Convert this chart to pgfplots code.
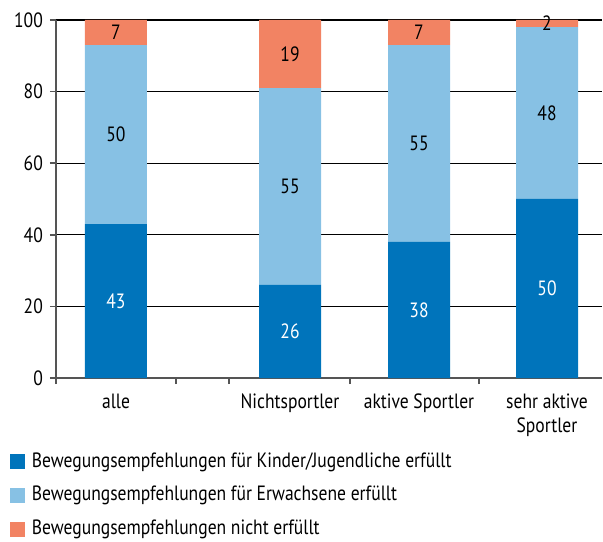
\documentclass[border=0pt]{standalone}
\usepackage{pgfplots}
\usepackage{pgfplotstable}
\pgfplotsset{compat=1.18}
\usepackage{fontspec}
\setmainfont{PT Sans}[FakeStretch=0.85]
\definecolor{dblue}{RGB}{0,116,187}
\definecolor{lblue}{RGB}{135,193,228}
\definecolor{orng}{RGB}{242,131,99}
\definecolor{axgray}{RGB}{85,85,85}
% x positions of the bars (category slots, uneven as in the original)
\pgfplotstableread{
x y
116 43
290 26
419 38
547 50
}\tKinder
\pgfplotstableread{
x y
116 50
290 55
419 55
547 48
}\tErw
\pgfplotstableread{
x y
116 7
290 19
419 7
547 2
}\tNicht
\begin{document}
\fontsize{15.5pt}{18pt}\selectfont
\begin{tikzpicture}
\useasboundingbox (-42pt,-123pt) rectangle (410.25pt,283.5pt);
\begin{axis}[
  at={(0,0)}, anchor=south west,
  scale only axis, width=409.5pt, height=268.5pt,
  ybar stacked, bar width=62,
  xmin=56, xmax=602, ymin=0, ymax=100,
  axis x line=bottom, axis y line=left,
  axis line style={axgray, line width=1.3pt, -},
  ytick={0,20,40,60,80,100},
  ymajorgrids=true,
  grid style={black, line width=0.8pt},
  xtick={116,290,419,547},
  xticklabels={alle, Nichtsportler, aktive Sportler, {sehr aktive\\Sportler}},
  x tick label style={align=center, yshift=-2pt},
  extra x ticks={56,176,229,350,479},
  extra x tick labels={},
  extra x tick style={xtick style={draw=axgray, line width=1.2pt}, xmajorgrids=false},
  major tick length=4.5pt,
  tick align=outside,
  tick style={axgray, line width=1.2pt},
  xtick style={draw=none},
  /pgf/number format/assume math mode=true,
  legend style={at={(axis description cs:-0.0916,-0.20)}, anchor=north west,
    draw=none, fill=none, legend cell align=left, row sep=11.2pt,
    nodes={inner sep=0pt, text height=11pt, text depth=3pt}},
  legend image code/.code={\fill[#1] (0pt,-5.6pt) rectangle (11.25pt,5.6pt);},
  nodes near coords,
  every node near coord/.append style={anchor=center},
]
\addplot[fill=dblue, draw=none, nodes near coords style={white}] table[x=x,y=y] {\tKinder};
\addplot[fill=lblue, draw=none, nodes near coords style={black}] table[x=x,y=y] {\tErw};
\addplot[fill=orng, draw=none, nodes near coords style={black}] table[x=x,y=y] {\tNicht};
\legend{\hspace{5pt}Bewegungsempfehlungen für Kinder/Jugendliche erfüllt,
        \hspace{5pt}Bewegungsempfehlungen für Erwachsene erfüllt,
        \hspace{5pt}Bewegungsempfehlungen nicht erfüllt}
\end{axis}
\end{tikzpicture}
\end{document}
